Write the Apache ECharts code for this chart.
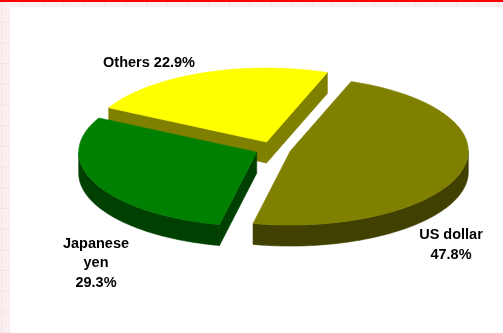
<!DOCTYPE html>
<html><head><meta charset="utf-8">
<script src="https://cdn.jsdelivr.net/npm/echarts@6/dist/echarts.min.js"></script>
<style>html,body{margin:0;padding:0;background:#fff;}#c{width:503px;height:333px;}</style>
</head><body><div id="c"></div>
<script>
// ---- data ----
const categories = ['US dollar', 'Japanese yen', 'Others'];
const shares = [47.8, 29.3, 22.9];
const labelNames = ['US dollar', 'Japanese\nyen', 'Others'];
const labelSeparators = ['\n', '\n', ' '];

// ---- style / layout ----
const TOP = ['#808000', '#008000', '#ffff00'];
const SIDE = ['#404000', '#004000', '#808000'];
const CX = 273, CY = 149, RX = 178, RY = 74, DEPTH = 21, EXPLODE = 18, START = -70;
const LABEL_POS = [[451, 245], [96, 263], [149, 63]];
const RAD = Math.PI / 180;
const total = shares.reduce((a, b) => a + b, 0);

function renderItem(params, api) {
  const i = params.dataIndex;
  let cum = 0;
  for (let k = 0; k < i; k++) cum += shares[k];
  const v = api.value(0);
  const a1 = START + 360 * cum / total;
  const a2 = a1 + 360 * v / total;
  const mid = (a1 + a2) / 2 * RAD;
  const ox = CX + EXPLODE * Math.cos(mid);
  const oy = CY + EXPLODE * Math.sin(mid) * RY / RX;
  const pt = (deg, dy) => [ox + RX * Math.cos(deg * RAD), oy + RY * Math.sin(deg * RAD) + (dy || 0)];
  const arc = (b1, b2, dy) => {
    const pts = [];
    const n = Math.max(2, Math.ceil(Math.abs(b2 - b1)));
    for (let k = 0; k <= n; k++) pts.push(pt(b1 + (b2 - b1) * k / n, dy));
    return pts;
  };
  const base = Math.round((Math.sin(mid) + 1) * 100) * 10;
  const poly = (points, fill, z2) => ({
    type: 'polygon', shape: { points: points }, z2: z2,
    style: { fill: fill, stroke: fill, lineWidth: 0.6 }
  });
  const children = [];
  if (Math.sin((a1 - 90) * RAD) > 0)
    children.push(poly([[ox, oy], pt(a1), pt(a1, DEPTH), [ox, oy + DEPTH]], SIDE[i], base + 1));
  if (Math.sin((a2 + 90) * RAD) > 0)
    children.push(poly([[ox, oy], pt(a2), pt(a2, DEPTH), [ox, oy + DEPTH]], SIDE[i], base + 1));
  for (let k = -1; k <= 1; k++) {
    const lo = Math.max(a1, 360 * k), hi = Math.min(a2, 360 * k + 180);
    if (hi > lo) children.push(poly(arc(lo, hi, 0).concat(arc(hi, lo, DEPTH)), SIDE[i], base + 2));
  }
  children.push(poly([[ox, oy]].concat(arc(a1, a2, 0)), TOP[i], base + 5));
  children.push({
    type: 'text', z2: 5000,
    style: {
      text: labelNames[i] + labelSeparators[i] + v.toFixed(1) + '%',
      x: LABEL_POS[i][0], y: LABEL_POS[i][1],
      align: 'center', verticalAlign: 'middle',
      fontFamily: 'Liberation Sans, Arial, sans-serif', fontWeight: 'bold', fontSize: 14.5,
      lineHeight: 19.5, fill: '#000'
    }
  });
  return { type: 'group', children: children };
}

// background decoration
const bg = [{ type: 'rect', z: -10, shape: { x: 0, y: 0, width: 503, height: 333 }, style: { fill: '#fbf0f0' } }];
for (let x = 1.3; x < 503; x += 20.7)
  bg.push({ type: 'rect', z: -9, shape: { x: x, y: 0, width: 1, height: 333 }, style: { fill: '#f6e0e0' } });
for (let y = 1; y < 333; y += 20.7)
  bg.push({ type: 'rect', z: -9, shape: { x: 0, y: y, width: 503, height: 1 }, style: { fill: '#f6e0e0' } });
bg.push({ type: 'rect', z: -8, shape: { x: 10, y: 7, width: 493, height: 326 }, style: { fill: '#ffffff' } });
bg.push({ type: 'rect', z: -8, shape: { x: 0, y: 0, width: 503, height: 2 }, style: { fill: '#ff0000' } });

const chart = echarts.init(document.getElementById('c'), null, { renderer: 'canvas' });
chart.setOption({
  animation: false,
  graphic: bg,
  series: [{
    type: 'custom',
    coordinateSystem: 'none',
    name: 'Share',
    z: 2,
    data: shares.map((v, i) => ({ name: categories[i], value: [v] })),
    renderItem: renderItem
  }]
});
</script>
</body></html>
